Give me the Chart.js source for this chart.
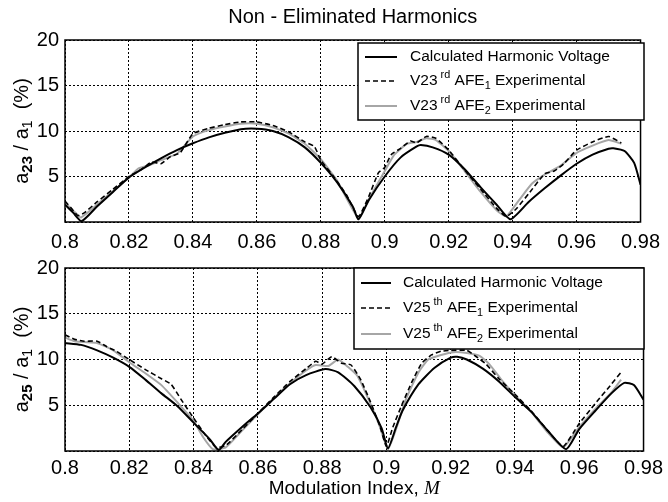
<!DOCTYPE html>
<html>
<head>
<meta charset="utf-8">
<script src="https://cdn.jsdelivr.net/npm/chart.js@4.4.1/dist/chart.umd.min.js"></script>
<style>
  body { margin: 0; background: #fff; }
  #wrap { position: relative; width: 668px; height: 502px; }
  .box { position: absolute; left: 0; width: 668px; }
</style>
</head>
<body>
<div id="wrap">
  <div class="box" style="top:0;height:250px"><canvas id="chart1"></canvas></div>
  <div class="box" style="top:250px;height:252px"><canvas id="chart2"></canvas></div>
</div>
<script>
/* tick labels */
const xTicks = [0.8, 0.82, 0.84, 0.86, 0.88, 0.9, 0.92, 0.94, 0.96, 0.98];
const yTicks = [5, 10, 15, 20];

/* 23rd harmonic - calculated */
const calc23X = [0.8, 0.8026, 0.8052, 0.81, 0.815, 0.82, 0.825, 0.83, 0.835, 0.84, 0.845, 0.85, 0.855, 0.86, 0.865, 0.87, 0.875, 0.88, 0.885, 0.89, 0.8918, 0.895, 0.9, 0.905, 0.91, 0.9113, 0.915, 0.92, 0.925, 0.93, 0.935, 0.9393, 0.945, 0.95, 0.955, 0.96, 0.965, 0.97, 0.9715, 0.975, 0.978, 0.98];
const calc23Y = [1.9, 1.0, 0.1, 1.7, 3.3, 4.9, 6.0, 7.0, 7.9, 8.65, 9.3, 9.8, 10.2, 10.25, 10.0, 9.3, 8.2, 6.5, 4.4, 1.7, 0.3, 2.4, 5.0, 7.1, 8.3, 8.45, 8.2, 7.4, 5.8, 3.8, 1.9, 0.3, 2.2, 3.7, 5.1, 6.4, 7.4, 8.05, 8.1, 7.8, 6.5, 4.1];
/* 23rd harmonic - AFE1 experimental */
const afe1_23X = [0.8, 0.802, 0.804, 0.806, 0.81, 0.815, 0.82, 0.824, 0.827, 0.83, 0.833, 0.836, 0.84, 0.845, 0.85, 0.855, 0.86, 0.865, 0.87, 0.875, 0.878, 0.88, 0.884, 0.888, 0.8918, 0.895, 0.898, 0.9, 0.902, 0.905, 0.908, 0.91, 0.913, 0.916, 0.92, 0.925, 0.93, 0.935, 0.938, 0.941, 0.945, 0.95, 0.953, 0.956, 0.96, 0.965, 0.97, 0.974];
const afe1_23Y = [2.3, 1.5, 0.7, 1.0, 2.2, 3.6, 5.0, 5.8, 6.6, 6.4, 7.2, 7.6, 9.7, 10.3, 10.7, 11.0, 11.0, 10.6, 9.9, 8.8, 8.3, 6.8, 5.0, 3.0, 0.6, 2.8, 5.4, 6.0, 7.4, 8.1, 8.9, 8.7, 9.4, 9.2, 7.9, 5.7, 3.6, 1.5, 0.6, 1.4, 3.1, 5.3, 5.6, 6.4, 7.9, 8.8, 9.4, 8.7];
/* 23rd harmonic - AFE2 experimental */
const afe2_23X = [0.8, 0.803, 0.805, 0.81, 0.815, 0.82, 0.823, 0.826, 0.83, 0.835, 0.84, 0.845, 0.85, 0.855, 0.86, 0.865, 0.87, 0.875, 0.88, 0.885, 0.8918, 0.895, 0.9, 0.903, 0.907, 0.91, 0.913, 0.916, 0.92, 0.925, 0.93, 0.935, 0.938, 0.942, 0.946, 0.95, 0.955, 0.96, 0.965, 0.97, 0.974];
const afe2_23Y = [2.1, 1.1, 0.5, 1.9, 3.4, 4.9, 5.9, 6.2, 6.8, 7.5, 9.4, 10.1, 10.5, 10.8, 10.8, 10.4, 9.7, 8.6, 6.9, 4.6, 0.4, 2.5, 5.6, 7.4, 8.6, 8.8, 9.2, 9.0, 7.8, 5.6, 3.3, 1.3, 0.6, 2.4, 4.2, 5.2, 6.2, 7.6, 8.4, 9.0, 8.6];

/* 25th harmonic - calculated */
const calc25X = [0.8, 0.805, 0.81, 0.815, 0.82, 0.825, 0.83, 0.835, 0.84, 0.845, 0.8478, 0.85, 0.855, 0.86, 0.865, 0.87, 0.875, 0.881, 0.885, 0.89, 0.895, 0.8985, 0.9005, 0.903, 0.905, 0.91, 0.915, 0.92, 0.922, 0.925, 0.93, 0.935, 0.94, 0.945, 0.95, 0.9559, 0.96, 0.965, 0.97, 0.974, 0.977, 0.98];
const calc25Y = [11.8, 11.6, 11.0, 10.2, 9.2, 7.8, 6.3, 4.9, 3.1, 1.3, 0.1, 1.0, 2.6, 4.1, 5.7, 7.3, 8.3, 8.95, 8.6, 7.1, 4.8, 2.5, 0.3, 2.6, 4.4, 7.3, 9.1, 10.2, 10.3, 10.0, 9.0, 7.6, 5.9, 4.3, 2.3, 0.2, 2.4, 4.4, 6.3, 7.45, 7.2, 5.6];
/* 25th harmonic - AFE1 experimental */
const afe1_25X = [0.8, 0.803, 0.806, 0.81, 0.813, 0.816, 0.82, 0.825, 0.83, 0.833, 0.836, 0.84, 0.844, 0.847, 0.85, 0.855, 0.86, 0.865, 0.87, 0.875, 0.878, 0.88, 0.883, 0.886, 0.889, 0.892, 0.895, 0.898, 0.9, 0.902, 0.905, 0.908, 0.911, 0.914, 0.917, 0.92, 0.925, 0.928, 0.931, 0.935, 0.94, 0.945, 0.95, 0.955, 0.96, 0.965, 0.97, 0.973];
const afe1_25Y = [12.7, 12.2, 12.0, 12.0, 11.4, 10.9, 10.0, 8.9, 7.9, 7.3, 5.7, 3.6, 1.6, 0.4, 0.6, 2.3, 4.1, 5.9, 7.6, 9.0, 9.8, 9.5, 10.3, 9.6, 9.4, 7.8, 5.4, 2.7, 0.5, 2.6, 5.2, 7.6, 9.6, 10.5, 10.9, 11.0, 11.0, 10.3, 9.5, 7.9, 6.2, 4.4, 2.3, 0.5, 3.0, 5.2, 7.3, 8.6];
/* 25th harmonic - AFE2 experimental */
const afe2_25X = [0.8, 0.803, 0.806, 0.81, 0.815, 0.82, 0.825, 0.83, 0.835, 0.84, 0.843, 0.846, 0.85, 0.855, 0.86, 0.865, 0.87, 0.875, 0.878, 0.882, 0.885, 0.888, 0.891, 0.895, 0.898, 0.9005, 0.903, 0.906, 0.91, 0.913, 0.917, 0.921, 0.925, 0.929, 0.932, 0.936, 0.94, 0.945, 0.95, 0.955, 0.96, 0.965, 0.97, 0.973];
const afe2_25Y = [12.4, 12.0, 11.9, 11.8, 11.0, 9.7, 8.5, 7.2, 5.3, 3.3, 1.5, 0.2, 0.4, 2.2, 4.0, 5.8, 7.4, 8.8, 9.4, 9.3, 10.0, 9.2, 8.2, 5.2, 2.6, 0.2, 2.4, 5.6, 8.6, 10.0, 10.5, 10.8, 10.7, 10.4, 9.5, 7.7, 6.1, 4.3, 2.1, 0.4, 2.6, 4.6, 6.4, 7.8];

const FONT = "'Liberation Sans', Arial, sans-serif";

/* zip two arrays into {x,y} points */
function pts(xs, ys) {
  return xs.map((x, i) => ({ x: x, y: ys[i] }));
}

/* font for a text piece: n = normal, sup, sub, subb = bold sub */
function pieceFont(kind, size) {
  if (kind === 'n') return size + 'px ' + FONT;
  if (kind === 'subb') return 'bold ' + (size * 0.75) + 'px ' + FONT;
  return (size * 0.7) + 'px ' + FONT;
}
function drawPieces(ctx, pieces, x, y, size) {
  let cx = x;
  pieces.forEach(p => {
    let dy = 0;
    if (p[1] === 'sup') dy = -size * 0.4;
    if (p[1] === 'sub' || p[1] === 'subb') dy = size * 0.3;
    ctx.font = pieceFont(p[1], size);
    ctx.fillText(p[0], cx, y + dy);
    cx += ctx.measureText(p[0]).width;
  });
  return cx - x;
}
function piecesWidth(ctx, pieces, size) {
  let w = 0;
  pieces.forEach(p => {
    ctx.font = pieceFont(p[1], size);
    w += ctx.measureText(p[0]).width;
  });
  return w;
}

/* frame, legend, titles drawn on top of the chart */
const framePlugin = {
  id: 'frame',
  afterDraw(chart, args, opts) {
    const ctx = chart.ctx, a = chart.chartArea;
    ctx.save();
    ctx.strokeStyle = '#000';
    ctx.lineWidth = 1.5;
    ctx.setLineDash([]);
    ctx.strokeRect(a.left, a.top, a.right - a.left, a.bottom - a.top);

    // legend box
    const L = opts.legend;
    ctx.fillStyle = '#fff';
    ctx.fillRect(L.x, L.y, L.w, L.h);
    ctx.strokeRect(L.x, L.y, L.w, L.h);
    ctx.textBaseline = 'middle';
    ctx.textAlign = 'left';
    L.rows.forEach((r, i) => {
      const ds = chart.data.datasets[i];
      ctx.beginPath();
      ctx.strokeStyle = ds.borderColor;
      ctx.lineWidth = ds.borderWidth;
      ctx.setLineDash(ds.borderDash || []);
      ctx.moveTo(L.lx1, r);
      ctx.lineTo(L.lx2, r);
      ctx.stroke();
      ctx.setLineDash([]);
      ctx.fillStyle = '#000';
      drawPieces(ctx, L.text[i], L.tx, r, 15.5);
    });

    // y axis label, rotated
    ctx.save();
    ctx.translate(opts.ylabX, (a.top + a.bottom) / 2);
    ctx.rotate(-Math.PI / 2);
    ctx.fillStyle = '#000';
    const yl = opts.ylab;
    const w = piecesWidth(ctx, yl, 20);
    drawPieces(ctx, yl, -w / 2, 0, 20);
    ctx.restore();

    // title / x label
    ctx.fillStyle = '#000';
    ctx.textAlign = 'center';
    if (opts.title) {
      ctx.font = '20px ' + FONT;
      ctx.fillText(opts.title, (a.left + a.right) / 2, 17);
    }
    if (opts.xlab) {
      ctx.textAlign = 'left';
      ctx.font = '19px ' + FONT;
      const t1 = 'Modulation Index, ';
      const w1 = ctx.measureText(t1).width;
      ctx.font = 'italic 19px "Liberation Serif", serif';
      const w2 = ctx.measureText('M').width;
      const x0 = (a.left + a.right) / 2 - (w1 + w2) / 2;
      ctx.font = '19px ' + FONT;
      ctx.fillText(t1, x0, opts.xlab);
      ctx.font = 'italic 19px "Liberation Serif", serif';
      ctx.fillText('M', x0 + w1, opts.xlab);
    }
    ctx.restore();
  }
};

function makeConfig(sets, padTop, xH, tickPad, frameOpts) {
  return {
    type: 'line',
    data: {
      datasets: [
        { data: sets[0], borderColor: '#000', borderWidth: 2, pointRadius: 0, tension: 0.2 },
        { data: sets[1], borderColor: '#000', borderWidth: 1.6, borderDash: [5, 3], pointRadius: 0, tension: 0.15 },
        { data: sets[2], borderColor: '#a6a6a6', borderWidth: 2, pointRadius: 0, tension: 0.15 }
      ]
    },
    options: {
      responsive: true,
      maintainAspectRatio: false,
      animation: false,
      layout: { padding: { top: padTop, right: 24, left: 0, bottom: 0 } },
      plugins: { legend: { display: false }, tooltip: { enabled: false }, frame: frameOpts },
      scales: {
        x: {
          type: 'linear', min: 0.8, max: 0.98,
          afterBuildTicks: s => { s.ticks = xTicks.map(v => ({ value: v })); },
          afterFit: s => { s.height = xH; },
          grid: { color: '#000', lineWidth: 1, drawTicks: false },
          border: { display: false, dash: [2, 2] },
          ticks: { color: '#000', padding: tickPad, font: { family: FONT, size: 20 }, maxRotation: 0,
                   callback: v => (+v.toFixed(2)).toString() }
        },
        y: {
          min: 0, max: 20,
          afterBuildTicks: s => { s.ticks = [0].concat(yTicks).map(v => ({ value: v })); },
          afterFit: s => { s.width = 65; },
          grid: { color: '#000', lineWidth: 1, drawTicks: false },
          border: { display: false, dash: [2, 2] },
          ticks: { color: '#000', padding: 6, font: { family: FONT, size: 20 },
                   callback: v => v === 0 ? '' : v }
        }
      }
    },
    plugins: [framePlugin]
  };
}

const chart1 = new Chart(document.getElementById('chart1'), makeConfig(
  [pts(calc23X, calc23Y), pts(afe1_23X, afe1_23Y), pts(afe2_23X, afe2_23Y)],
  40, 28, 8,
  {
    title: 'Non - Eliminated Harmonics',
    ylabX: 22,
    ylab: [['a', 'n'], ['23', 'subb'], [' / a', 'n'], ['1', 'sub'], ['  (%)', 'n']],
    legend: {
      x: 358, y: 43, w: 286, h: 77, lx1: 365, lx2: 397, tx: 410,
      rows: [57, 81, 106],
      text: [
        [['Calculated Harmonic Voltage', 'n']],
        [['V23', 'n'], [' rd', 'sup'], [' AFE', 'n'], ['1', 'sub'], [' Experimental', 'n']],
        [['V23', 'n'], [' rd', 'sup'], [' AFE', 'n'], ['2', 'sub'], [' Experimental', 'n']]
      ]
    }
  }
));

const chart2 = new Chart(document.getElementById('chart2'), makeConfig(
  [pts(calc25X, calc25Y), pts(afe1_25X, afe1_25Y), pts(afe2_25X, afe2_25Y)],
  18, 51, 5,
  {
    xlab: 239,
    ylabX: 22,
    ylab: [['a', 'n'], ['25', 'subb'], [' / a', 'n'], ['1', 'sub'], ['  (%)', 'n']],
    legend: {
      x: 354, y: 18, w: 290, h: 81, lx1: 361, lx2: 391, tx: 403,
      rows: [33, 58, 84],
      text: [
        [['Calculated Harmonic Voltage', 'n']],
        [['V25', 'n'], [' th', 'sup'], [' AFE', 'n'], ['1', 'sub'], [' Experimental', 'n']],
        [['V25', 'n'], [' th', 'sup'], [' AFE', 'n'], ['2', 'sub'], [' Experimental', 'n']]
      ]
    }
  }
));
</script>
</body>
</html>
